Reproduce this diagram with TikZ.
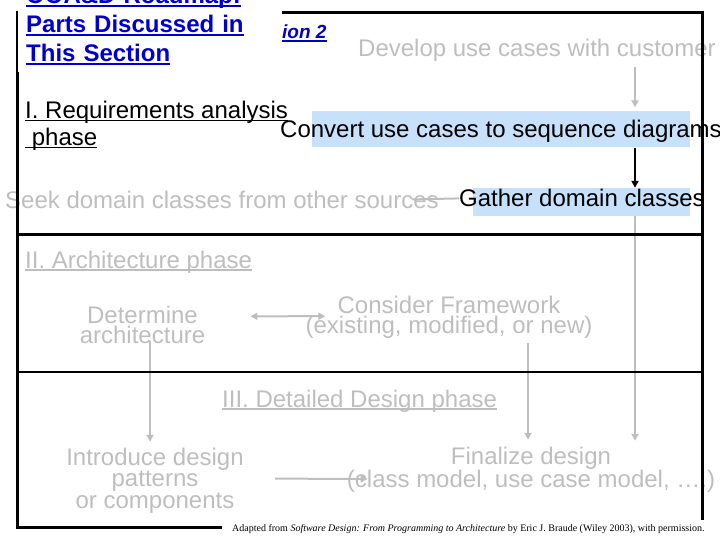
\documentclass[tikz,border=0pt]{standalone}
\usepackage{fontspec}
\setmainfont{Liberation Sans}
\newfontfamily\creditfont{Liberation Serif}
\usepackage{tikz}
\usetikzlibrary{arrows.meta,calc}
\definecolor{faded}{RGB}{190,190,190}
\definecolor{hilite}{RGB}{200,225,250}
\definecolor{linkblue}{RGB}{0,0,204}
\newcommand{\ulin}[1]{\leavevmode\setbox0\hbox{#1}\rlap{\vrule height -1.2pt depth 2.8pt width \wd0}\box0}

\begin{document}
\begin{tikzpicture}[x=1pt,y=-1pt,>={Triangle[length=7pt,width=7pt]},
    phasehead/.style ={font=\fontsize{24}{27}\selectfont, inner sep=0pt},
    activity/.style ={text=faded, font=\fontsize{24}{20}\selectfont, align=center, inner sep=0pt},
    active/.style ={text=black, font=\fontsize{24}{20}\selectfont, inner sep=0pt},
    highlight/.style ={fill=hilite, inner sep=0pt},
    flow/.style ={draw=faded, line width=2pt, ->},
    phaseline/.style ={draw=black, line width=3pt}]
   \useasboundingbox (0,0) rectangle (720,540);
   \coordinate (colA) at (635,0);
   \coordinate (colB) at (528,0);
   \coordinate (colC) at (150,0);

   % I. requirements
   \node[highlight, minimum width=378pt, minimum height=36pt] (convbox) at (501,129.5) {};
   \node[highlight, minimum width=217pt, minimum height=28pt] (gatherbox) at (581.5,202) {};
   \node[activity, anchor=base west] (develop) at (358,57) {Develop use cases with customer};
   \node[active, anchor=base west] (convert) at (280,138) {Convert use cases to sequence diagrams};
   \node[activity, anchor=base west] (seek) at (5,208) {Seek domain classes from other sources};
   \node[active, anchor=base west] (gather) at (459,207) {Gather domain classes};
   \node[phasehead, anchor=north west, align=left] (reqs) at (25,100.8)
      {\ulin{I. Requirements analysis}\\\ulin{\ phase}};

   % II. architecture
   \node[phasehead, text=faded, anchor=base west] (arch) at (25,268) {\ulin{II. Architecture phase}};
   \node[activity, anchor=north] (determine) at (142.5,305.8) {Determine\\architecture};
   \node[activity, anchor=north] (consider) at (449,295.8) {Consider Framework\\(existing, modified, or new)};

   % III. detailed design
   \node[phasehead, text=faded, anchor=base west] (detail) at (222,407) {\ulin{III. Detailed Design phase}};
   \node[activity, anchor=north] (introduce) at (155,447.8) {Introduce design\\patterns\\or components};
   \node[activity, anchor=north] (finalize) at (531,446.8) {Finalize design\\(class model, use case model, \dots.)};

   % connectors
   \draw[flow, shorten <=5pt, shorten >=4pt] (develop.south -| colA) -- (convbox.north -| colA);
   \draw[flow, draw=black, line width=2.5pt] (convbox.south -| colA) -- (gatherbox.north -| colA);
   \draw[flow, shorten >=6pt] (gatherbox.south -| colA) -- (finalize.north -| colA);
   \draw[faded, line width=2pt] (gather.west) -- ([xshift=-27pt]seek.east);
   \draw[flow, <->] ($(determine.east)+(45,-8.5)$) -- ($(consider.west)+(20,-1)$);
   \draw[flow, shorten <=-3pt, shorten >=6pt] (determine.south -| colC) -- (introduce.north -| colC);
   \draw[flow, shorten <=4pt, shorten >=7pt] (consider.south -| colB) -- (finalize.north -| colB);
   \draw[flow] ($(introduce.east)+(31,-2)$) -- ($(finalize.west)+(21,9)$);

   % frame
   \draw[phaseline] (17.5,12.5) rectangle (702,527);
   \draw[phaseline] (17.5,234) -- (702,234);
   \draw[phaseline, line width=2.5pt] (17.5,372) -- (702,372);

   \node[anchor=base west, text=linkblue, font=\fontsize{19}{22}\selectfont\bfseries\itshape, inner sep=0pt]
      (sect) at (282,39) {\ulin{ion 2}};
   \node[anchor=south west, fill=white, text=linkblue, font=\fontsize{24}{29}\selectfont\bfseries,
      text width=247pt, align=left, inner xsep=8.5pt, inner ysep=7.2pt] (title) at (17.5,72)
      {\ulin{OOA\&D Roadmap:}\\\ulin{Parts Discussed in}\\\ulin{This Section}};
   \node[anchor=base west, fill=white, font=\creditfont\fontsize{10}{12}\selectfont,
      inner xsep=10pt, inner ysep=4pt] (credit) at (222,531)
      {Adapted from \textit{Software Design: From Programming to Architecture} by Eric J. Braude (Wiley 2003), with permission.};
 \end{tikzpicture}
\end{document}
